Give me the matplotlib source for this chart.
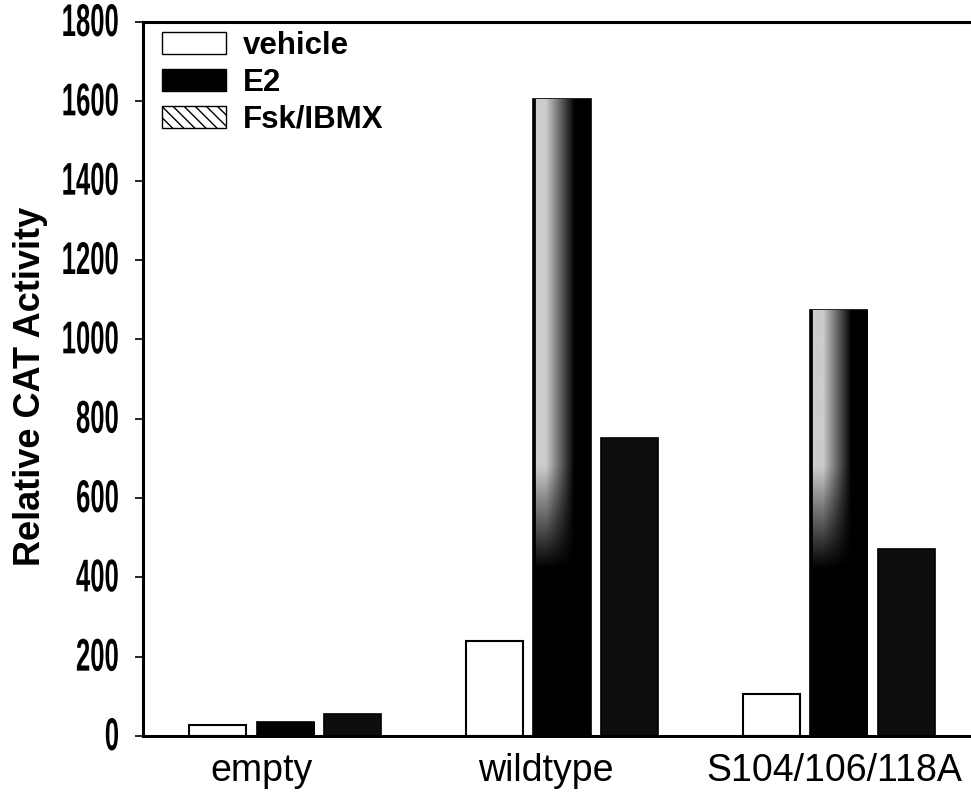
import numpy as np
import matplotlib
matplotlib.use("Agg")
import matplotlib.pyplot as plt
from matplotlib.patches import Patch
from matplotlib.patheffects import AbstractPathEffect
from matplotlib.text import Text
from matplotlib.transforms import Affine2D, Bbox, ScaledTranslation

# Data
groups = ["empty", "wildtype", "S104/106/118A"]
series = ["vehicle", "E2", "Fsk/IBMX"]
vehicle = [28, 240, 106]
e2 = [35, 1606, 1074]
fsk = [55, 751, 471]
y_ticks = [0, 200, 400, 600, 800, 1000, 1200, 1400, 1600, 1800]

plt.rcParams["font.family"] = ["Liberation Sans", "DejaVu Sans"]

SQUEEZE = 0.56


class Condense(AbstractPathEffect):
    """Squeeze glyph outlines horizontally, keeping the right edge fixed."""

    def __init__(self, sx):
        super().__init__()
        self.sx = sx

    def draw_path(self, renderer, gc, tpath, affine, rgbFace=None):
        x1 = tpath.get_extents(affine).x1
        squeeze = Affine2D().translate(-x1, 0).scale(self.sx, 1).translate(x1, 0)
        renderer.draw_path(gc, tpath, affine + squeeze, rgbFace)


class CondensedText(Text):
    """Right-aligned text drawn narrower than the font's normal width."""

    def __init__(self, *args, sx=SQUEEZE, **kwargs):
        super().__init__(*args, **kwargs)
        self._sx = sx
        self.set_path_effects([Condense(sx)])

    def get_window_extent(self, renderer=None, dpi=None):
        bb = super().get_window_extent(renderer, dpi)
        return Bbox([[bb.x1 - self._sx * bb.width, bb.y0], [bb.x1, bb.y1]])


fig = plt.figure(figsize=(9.71, 8.0), dpi=100)
ax = fig.add_axes([0.1473, 0.08, 0.8527, 0.8925])

x = np.arange(len(groups))
step = 0.245
width = 0.206

ax.bar(x - step, vehicle, width, facecolor="white", edgecolor="black", linewidth=1.5, zorder=2)
e2_bars = ax.bar(x, e2, width, facecolor="black", edgecolor="black", linewidth=1.2, zorder=2)
ax.bar(x + step, fsk, width, facecolor="#0e0e0e", edgecolor="black", linewidth=1.2, zorder=2)

# Shaded left-side highlight on the E2 bars (lighter at the top, fading to black lower down)
for rect in e2_bars:
    x0, w, h = rect.get_x(), rect.get_width(), rect.get_height()
    nx, ny = 60, 200
    xs = np.linspace(0, 1, nx)
    ys = np.linspace(0, h, ny)
    horiz = np.clip((0.72 - xs) / 0.5, 0, 1) * 0.8
    horiz[xs < 0.04] = 0
    vert = np.clip((ys - 420) / 260, 0, 1)
    img = vert[:, None] * horiz[None, :]
    im = ax.imshow(img, extent=[x0, x0 + w, 0, h], origin="lower", aspect="auto",
                   cmap="gray", vmin=0, vmax=1, zorder=3, interpolation="bilinear")
    im.set_clip_path(rect)

ax.set_xlim(-0.513, 2.477)
ax.set_ylim(0, 1800)

# y ticks with narrow bold numerals
ax.set_yticks(y_ticks)
ax.set_yticklabels([])
ax.tick_params(axis="y", direction="out", length=6, width=1.2)
label_offset = ScaledTranslation(-23 / 100, -2 / 100, fig.dpi_scale_trans)
for v in y_ticks:
    t = CondensedText(0, v, str(v), fontsize=33, fontweight="bold",
                      ha="right", va="center",
                      transform=ax.get_yaxis_transform() + label_offset)
    t.set_clip_on(False)
    ax.add_artist(t)

ax.set_xticks(x)
ax.set_xticklabels(groups, fontsize=27)
ax.tick_params(axis="x", length=0, pad=12)
label_shift_px = [-24, -16, -5]
for lab, dx in zip(ax.get_xticklabels(), label_shift_px):
    lab.set_transform(lab.get_transform() + ScaledTranslation(dx / 100, 0, fig.dpi_scale_trans))

ax.set_ylabel("Relative CAT Activity", fontsize=26, fontweight="bold")
ax.yaxis.set_label_coords(-0.115, 0.49)

for side in ["left", "top", "bottom"]:
    ax.spines[side].set_linewidth(2.2)
ax.spines["right"].set_visible(False)

handles = [
    Patch(facecolor="white", edgecolor="black", linewidth=1.0, label=series[0]),
    Patch(facecolor="black", edgecolor="black", label=series[1]),
    Patch(facecolor="white", edgecolor="black", hatch="\\\\\\", linewidth=1.0, label=series[2]),
]
leg = ax.legend(handles=handles, loc="upper left", bbox_to_anchor=(0.0, 1.014),
                frameon=False, prop={"weight": "bold", "size": 22.5},
                handlelength=2.05, handleheight=0.7, handletextpad=0.55,
                labelspacing=0.22, borderaxespad=0.5, borderpad=0.1)

fig.savefig("out.png", dpi=100)
